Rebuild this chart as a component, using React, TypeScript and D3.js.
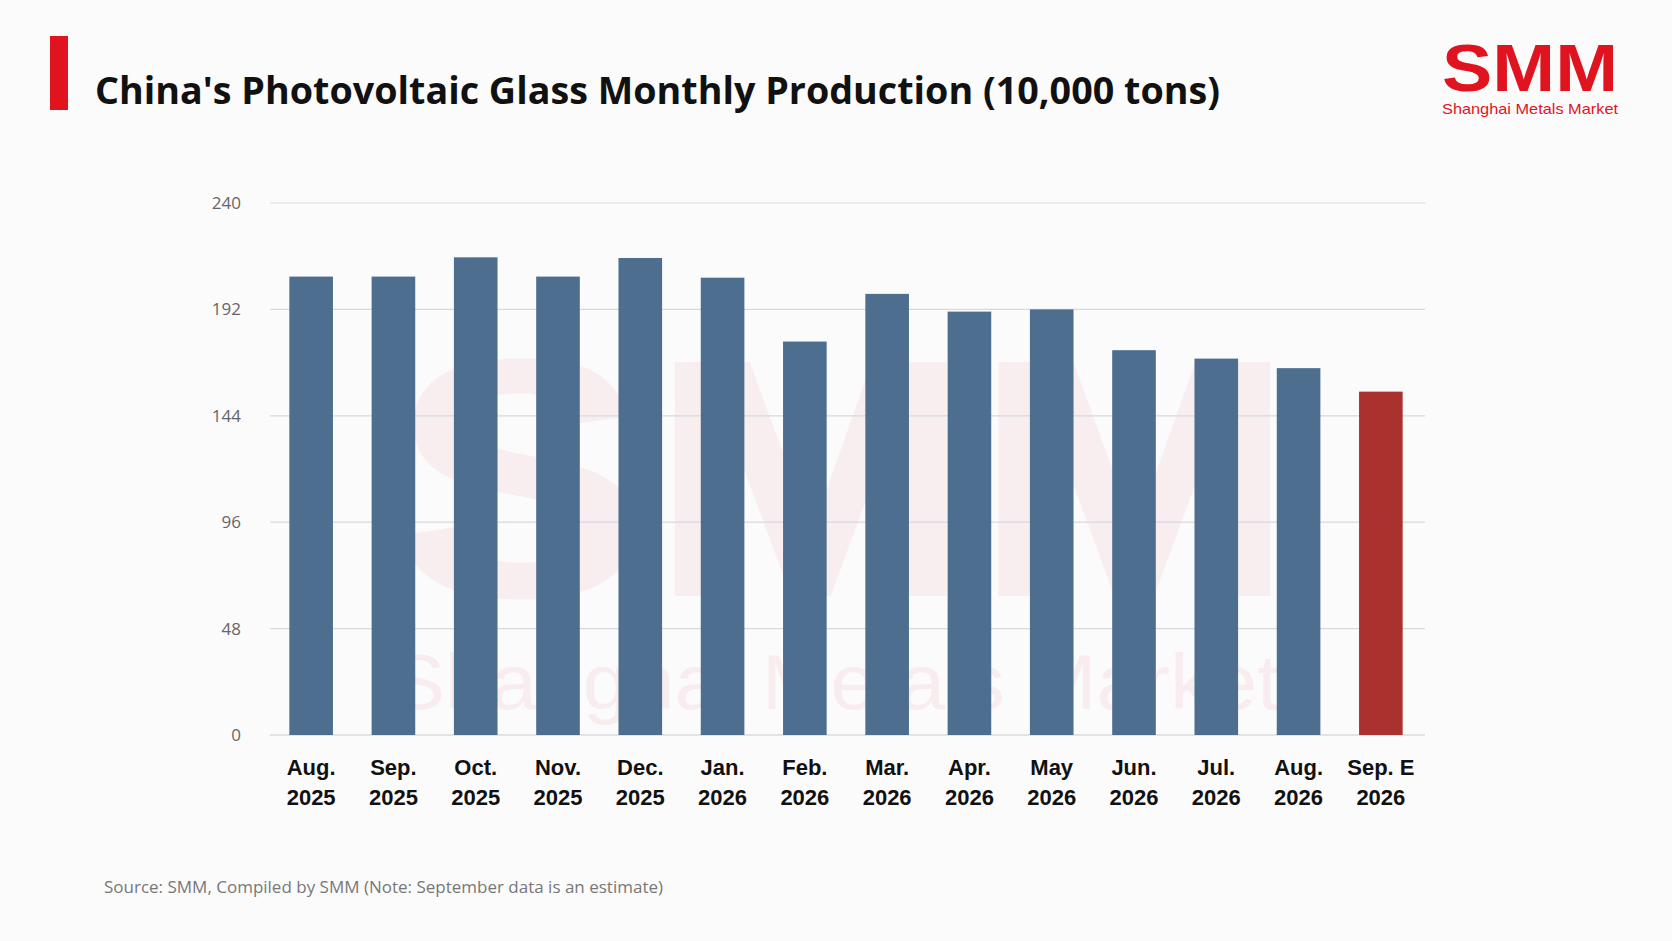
import React from "react";
import * as d3 from "d3";

const months = ["Aug.|2025","Sep.|2025","Oct.|2025","Nov.|2025","Dec.|2025","Jan.|2026","Feb.|2026","Mar.|2026","Apr.|2026","May|2026","Jun.|2026","Jul.|2026","Aug.|2026","Sep. E|2026"];
const values = [206.8,206.8,215.5,206.8,215.2,206.3,177.5,199,191,192,173.6,169.8,165.5,154.9];
const yTicks = [0,48,96,144,192,240];

export default function App() {
  const W = 1672, H = 941;
  const x = d3.scaleBand<string>().domain(months).range([270, 1422]).paddingInner(0.47).paddingOuter(0.235);
  const y = d3.scaleLinear().domain([0, 240]).range([735, 203]);
  return (
    <svg width={W} height={H} style={{ position: "absolute", left: 0, top: 0, background: "#fbfbfc" }}>
      <rect x={0} y={0} width={W} height={H} fill="#fbfbfc" />
      <rect x={50} y={36} width={18} height={74} fill="#e0141e" />
      <text x={95} y={104} fontFamily="'Open Sans', 'Noto Sans', sans-serif" fontWeight={700} fontSize={38} fill="#111" textLength={1125} lengthAdjust="spacingAndGlyphs">China's Photovoltaic Glass Monthly Production (10,000 tons)</text>
      <text x={1530} y={91} textAnchor="middle" fontFamily="'Liberation Sans', Arial" fontWeight={900} fontSize={66} fill="#e0141e" textLength={176} lengthAdjust="spacingAndGlyphs">SMM</text>
      <text x={1442} y={114} fontFamily="'Liberation Sans', Arial" fontSize={15} fill="#e0141e" textLength={176} lengthAdjust="spacingAndGlyphs">Shanghai Metals Market</text>
      <text x={843} y={596} textAnchor="middle" fontFamily="'Liberation Sans', Arial" fontWeight={900} fontSize={340} fill="#e0141e" opacity={0.05} textLength={906} lengthAdjust="spacingAndGlyphs">SMM</text>
      <text x={835} y={709} textAnchor="middle" fontFamily="'Liberation Sans', Arial" fontSize={78} fill="#e0141e" opacity={0.06} textLength={890} lengthAdjust="spacingAndGlyphs">Shanghai Metals Market</text>
      {yTicks.map(t => (
        <g key={t}>
          <line x1={270} x2={1425} y1={y(t)} y2={y(t)} stroke={t === 0 ? "#c8ccd4" : "#d6d9e0"} strokeWidth={1.2} />
          <text x={241} y={y(t) + 6} textAnchor="end" fontFamily="'Open Sans', sans-serif" fontSize={17} fill="#666">{t}</text>
        </g>
      ))}
      {months.map((m, i) => (
        <rect key={m} x={x(m)} y={y(values[i])} width={x.bandwidth()} height={y(0) - y(values[i])} fill={i === months.length - 1 ? "#a82a28" : "#48698b"} fillOpacity={0.97} />
      ))}
      {months.map(m => {
        const [a, b] = m.split("|");
        const cx = (x(m) as number) + x.bandwidth() / 2;
        return (
          <text key={m} textAnchor="middle" fontFamily="'Liberation Sans', Arial" fontWeight={700} fontSize={22} fill="#111">
            <tspan x={cx} y={775}>{a}</tspan>
            <tspan x={cx} y={805}>{b}</tspan>
          </text>
        );
      })}
      <text x={104} y={893} fontFamily="'Open Sans', sans-serif" fontSize={17} fill="#777">Source: SMM, Compiled by SMM (Note: September data is an estimate)</text>
    </svg>
  );
}
